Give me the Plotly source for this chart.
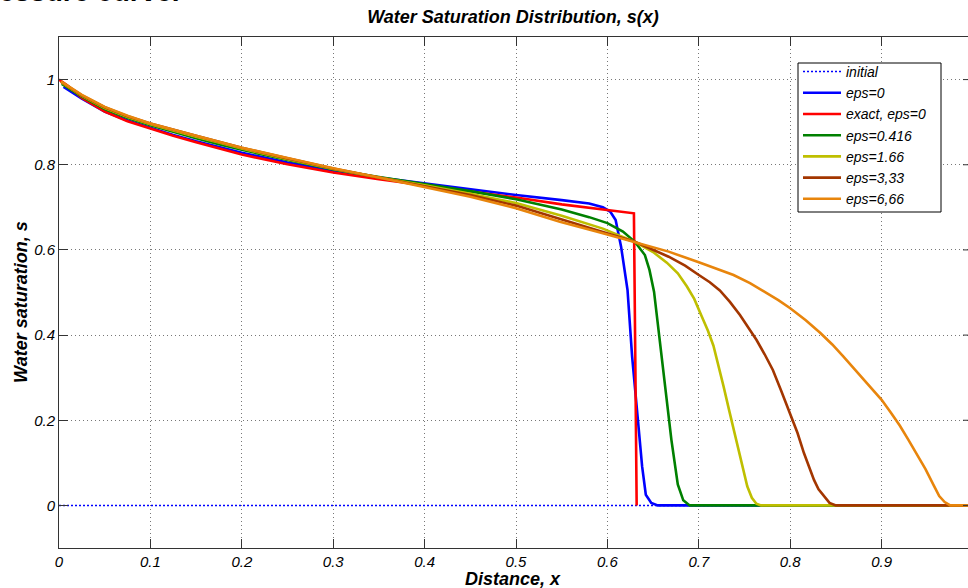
import plotly.graph_objects as go

# ---------------- data ----------------
init_x = [0.0, 1.0]
init_s = [0.0, 0.0]

eps0_x = [0.005, 0.025, 0.05, 0.075, 0.1, 0.125, 0.15, 0.175, 0.2, 0.25, 0.3, 0.35, 0.4, 0.45, 0.5,
          0.55, 0.58, 0.595, 0.603, 0.609, 0.615, 0.622, 0.627, 0.633, 0.638, 0.642, 0.648, 0.655, 1.0]
eps0_s = [0.983, 0.955, 0.925, 0.904, 0.887, 0.870, 0.855, 0.841, 0.828, 0.805, 0.786, 0.770, 0.756, 0.742, 0.729,
          0.717, 0.709, 0.700, 0.690, 0.670, 0.607, 0.506, 0.350, 0.209, 0.091, 0.025, 0.006, 0.0, 0.0]

exact_x = [0.0, 0.01, 0.025, 0.05, 0.075, 0.1, 0.125, 0.15, 0.175, 0.2, 0.25, 0.3, 0.35, 0.4, 0.45,
           0.5, 0.55, 0.6, 0.629, 0.632]
exact_s = [1.0, 0.985, 0.957, 0.925, 0.902, 0.885, 0.868, 0.853, 0.838, 0.824, 0.801, 0.782, 0.766, 0.752, 0.738,
           0.723, 0.707, 0.694, 0.686, 0.0]

e0416_x = [0.003, 0.025, 0.05, 0.075, 0.1, 0.125, 0.15, 0.175, 0.2, 0.25, 0.3, 0.35, 0.4, 0.45, 0.5,
           0.55, 0.58, 0.6, 0.617, 0.630, 0.641, 0.646, 0.651, 0.656, 0.663, 0.670, 0.677, 0.683, 0.690, 1.0]
e0416_s = [0.990, 0.960, 0.931, 0.910, 0.893, 0.877, 0.862, 0.848, 0.835, 0.811, 0.789, 0.771, 0.755, 0.738, 0.719,
           0.695, 0.677, 0.663, 0.643, 0.619, 0.588, 0.553, 0.502, 0.412, 0.288, 0.154, 0.049, 0.012, 0.0, 0.0]

e166_x = [0.003, 0.025, 0.05, 0.075, 0.1, 0.125, 0.15, 0.175, 0.2, 0.25, 0.3, 0.35, 0.4, 0.45, 0.5,
          0.55, 0.595, 0.630, 0.650, 0.665, 0.677, 0.687, 0.695, 0.703, 0.710, 0.716, 0.722, 0.727, 0.733,
          0.738, 0.744, 0.749, 0.753, 0.758, 0.763, 0.768, 1.0]
e166_s = [0.993, 0.962, 0.933, 0.912, 0.895, 0.880, 0.866, 0.852, 0.838, 0.813, 0.790, 0.770, 0.752, 0.732, 0.710,
          0.680, 0.650, 0.619, 0.595, 0.570, 0.545, 0.514, 0.485, 0.445, 0.410, 0.375, 0.325, 0.280, 0.225,
          0.180, 0.120, 0.075, 0.045, 0.018, 0.004, 0.0, 0.0]

e333_x = [0.002, 0.025, 0.05, 0.075, 0.1, 0.125, 0.15, 0.175, 0.2, 0.25, 0.3, 0.35, 0.4, 0.45, 0.5,
          0.548, 0.590, 0.630, 0.667, 0.685, 0.700, 0.712, 0.723, 0.734, 0.745, 0.754, 0.763, 0.772, 0.781,
          0.790, 0.800, 0.808, 0.815, 0.821, 0.826, 0.831, 0.837, 0.843, 0.850, 1.0]
e333_s = [0.995, 0.963, 0.935, 0.914, 0.897, 0.882, 0.868, 0.854, 0.840, 0.815, 0.791, 0.770, 0.750, 0.729, 0.704,
          0.672, 0.645, 0.619, 0.584, 0.563, 0.541, 0.524, 0.505, 0.478, 0.447, 0.419, 0.389, 0.355, 0.318,
          0.270, 0.217, 0.170, 0.123, 0.090, 0.060, 0.038, 0.021, 0.006, 0.0, 0.0]

e666_x = [0.002, 0.025, 0.05, 0.075, 0.1, 0.125, 0.15, 0.175, 0.2, 0.25, 0.3, 0.35, 0.4, 0.45, 0.5,
          0.548, 0.590, 0.630, 0.667, 0.700, 0.738, 0.756, 0.774, 0.787, 0.800, 0.817, 0.833, 0.846, 0.858,
          0.871, 0.884, 0.900, 0.910, 0.920, 0.929, 0.938, 0.948, 0.957, 0.963, 0.969, 0.975, 1.0]
e666_s = [0.996, 0.964, 0.936, 0.915, 0.897, 0.882, 0.868, 0.854, 0.840, 0.816, 0.792, 0.770, 0.748, 0.725, 0.698,
          0.666, 0.642, 0.619, 0.596, 0.571, 0.541, 0.522, 0.499, 0.482, 0.463, 0.435, 0.405, 0.378, 0.350,
          0.319, 0.287, 0.248, 0.218, 0.187, 0.155, 0.123, 0.085, 0.047, 0.022, 0.008, 0.0, 0.0]

x_ticks = [0, 0.1, 0.2, 0.3, 0.4, 0.5, 0.6, 0.7, 0.8, 0.9]
x_tick_labels = ["0", "0.1", "0.2", "0.3", "0.4", "0.5", "0.6", "0.7", "0.8", "0.9"]
y_ticks = [0, 0.2, 0.4, 0.6, 0.8, 1.0]
y_tick_labels = ["0", "0.2", "0.4", "0.6", "0.8", "1"]

series = [
    ("initial", init_x, init_s, "#0000FF", 1.5, "2px,2px"),
    ("eps=0", eps0_x, eps0_s, "#0000FF", 2.6, "solid"),
    ("exact, eps=0", exact_x, exact_s, "#FF0000", 2.6, "solid"),
    ("eps=0.416", e0416_x, e0416_s, "#008000", 2.6, "solid"),
    ("eps=1.66", e166_x, e166_s, "#BFBF00", 2.6, "solid"),
    ("eps=3,33", e333_x, e333_s, "#A33600", 2.6, "solid"),
    ("eps=6,66", e666_x, e666_s, "#E8850C", 2.6, "solid"),
]

FONT = "Liberation Sans, Arial, sans-serif"
L, R, T, B = 59, 0, 37, 40
W, H = 968, 588
PW, PH = W - L - R, H - T - B


def px_x(p):
    return (p - L) / PW


def px_y(p):
    return (H - B - p) / PH


fig = go.Figure()
for name, xs, ys, col, w, dash in series:
    fig.add_trace(go.Scatter(x=xs, y=ys, mode="lines", name=name,
                             line=dict(color=col, width=w, dash=dash)))

# right-hand tick marks (the axis box continues past the image edge)
for yt in y_ticks:
    fig.add_shape(type="line", xref="paper", yref="y", x0=0.9945, x1=1.0, y0=yt, y1=yt,
                  line=dict(color="#333333", width=1))

# legend frame
fig.add_shape(type="rect", xref="paper", yref="paper", layer="above",
              x0=px_x(798), x1=px_x(941), y0=px_y(212), y1=px_y(63),
              fillcolor="white", line=dict(color="black", width=1))

fig.update_layout(
    width=W, height=H,
    margin=dict(l=L, r=R, t=T, b=B, autoexpand=False),
    paper_bgcolor="white", plot_bgcolor="white",
    font=dict(family=FONT, color="black"),
    title=dict(text="Water Saturation Distribution, s(x)", x=px_x(513), xref="paper",
               xanchor="center", y=1 - 10 / H, yanchor="top",
               font=dict(size=18, weight="bold", style="italic", family=FONT)),
    legend=dict(x=px_x(798), y=px_y(56), xanchor="left", yanchor="top",
                bgcolor="rgba(0,0,0,0)", borderwidth=0,
                font=dict(size=14, style="italic", family=FONT),
                tracegroupgap=0, itemwidth=38),
    showlegend=True,
)

grid_common = dict(showgrid=True, gridcolor="#777777", griddash="1px,3px", gridwidth=1,
                   zeroline=False, showline=True, linecolor="#333333", linewidth=1,
                   ticks="inside", ticklen=9, tickcolor="#333333", automargin=False,
                   tickfont=dict(size=15, style="italic", family=FONT))

fig.update_xaxes(range=[0, 0.9945], tickvals=x_ticks, ticktext=x_tick_labels,
                 mirror="ticks", **grid_common)
fig.update_yaxes(range=[-0.1, 1.1], tickvals=y_ticks, ticktext=y_tick_labels,
                 mirror=False, **grid_common)

# axis titles
fig.add_annotation(text="Distance, x", xref="paper", yref="paper",
                   x=px_x(513), y=px_y(579), xanchor="center", yanchor="middle",
                   showarrow=False, font=dict(size=18, weight="bold", style="italic", family=FONT))
fig.add_annotation(text="Water saturation, s", xref="paper", yref="paper", textangle=-90,
                   x=px_x(21), y=px_y(302), xanchor="center", yanchor="middle",
                   showarrow=False, font=dict(size=18, weight="bold", style="italic", family=FONT))

# fragment of the surrounding document text, cut off at the top edge
fig.add_annotation(text="<b>essure curve.</b>", xref="paper", yref="paper",
                   x=px_x(-3), y=px_y(8.5), xanchor="left", yanchor="bottom",
                   showarrow=False, font=dict(size=28, family=FONT, color="black"))

fig.write_html("out.html", config={"displayModeBar": False},
               post_script="document.body.style.margin='0px';")
